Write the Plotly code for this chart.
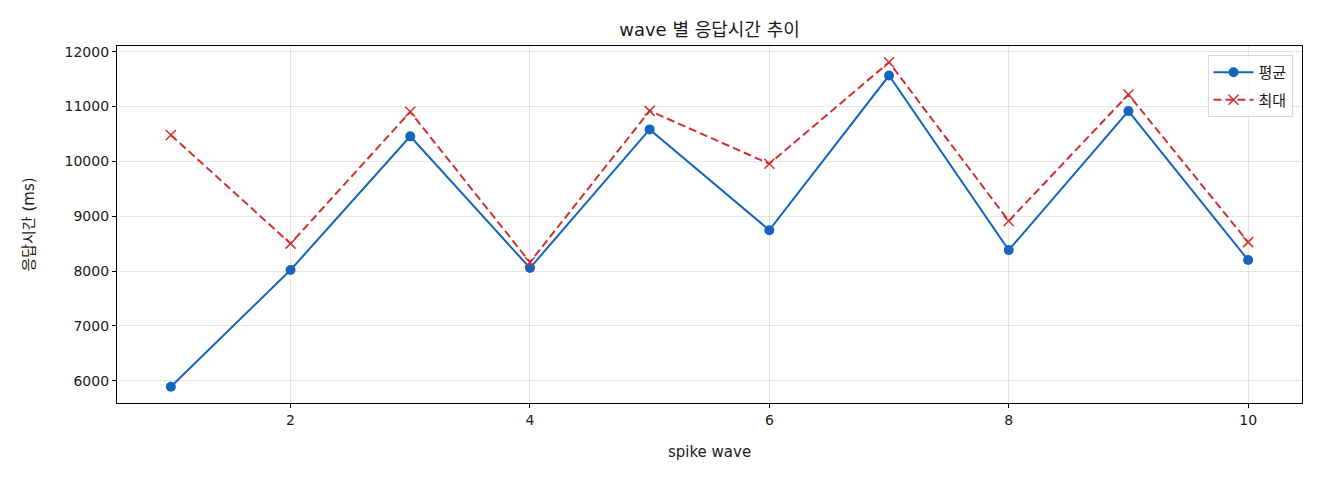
import plotly.graph_objects as go

# spike wave response times (ms)
waves = [1, 2, 3, 4, 5, 6, 7, 8, 9, 10]
avg_ms = [5890, 8020, 10455, 8055, 10582, 8745, 11564, 8382, 10915, 8200]
max_ms = [10480, 8500, 10903, 8160, 10920, 9956, 11806, 8914, 11218, 8527]
x_ticks = [2, 4, 6, 8, 10]
y_ticks = [6000, 7000, 8000, 9000, 10000, 11000, 12000]

FONT = "DejaVu Sans, Noto Sans CJK KR, sans-serif"
TXT = "#1a1a1a"

fig = go.Figure()

fig.add_trace(go.Scatter(
    x=waves, y=avg_ms, name="평균", mode="lines+markers", legendgroup="avg",
    line=dict(color="#1565C0", width=2),
    marker=dict(symbol="circle", size=10, color="#1565C0"),
))
fig.add_trace(go.Scatter(
    x=waves, y=max_ms, name="최대", mode="lines+markers", legendgroup="max",
    line=dict(color="#D32F2F", width=2, dash="8px,4px"),
    marker=dict(symbol="x-thin-open", size=10, line=dict(color="#D32F2F", width=1.5)),
))

axis_common = dict(
    showline=True, linecolor="black", linewidth=1.2, mirror=True,
    ticks="outside", ticklen=4, tickcolor="black",
    showgrid=True, gridcolor="rgba(0,0,0,0.1)", gridwidth=1,
    zeroline=False, tickfont=dict(size=14, color=TXT), tickformat="d",
)

fig.update_xaxes(range=[0.55, 10.45], tickvals=x_ticks,
                 title=dict(text="spike wave", font=dict(size=15, color=TXT), standoff=19),
                 **axis_common)
fig.update_yaxes(range=[5595, 12102], tickvals=y_ticks,
                 title=dict(text="응답시간 (ms)", font=dict(size=15, color=TXT), standoff=26),
                 **axis_common)

# page body adds an 8px offset, so margins are shifted to compensate
fig.update_layout(
    width=1320, height=480,
    margin=dict(l=109, r=26, t=38, b=85),
    paper_bgcolor="white", plot_bgcolor="white",
    font=dict(family=FONT, color=TXT),
    title=dict(text="wave 별 응답시간 추이", x=0.5, xanchor="center",
               xref="paper", y=0.954, yanchor="middle", font=dict(size=18, color=TXT)),
    legend=dict(x=0.992, y=0.975, xanchor="right", yanchor="top",
                bgcolor="rgba(255,255,255,0.8)", bordercolor="#d9d9d9", borderwidth=1,
                font=dict(size=15), itemwidth=40, traceorder="grouped", tracegroupgap=5),
    showlegend=True,
)

fig.write_html("out.html")
